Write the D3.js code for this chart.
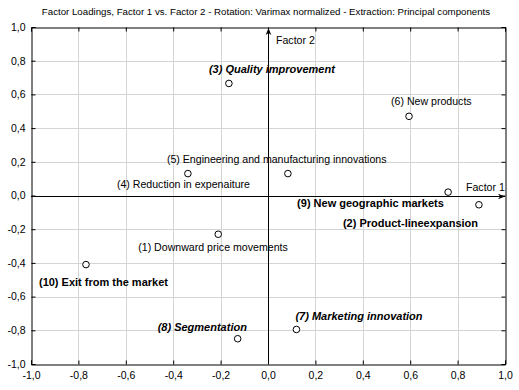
<!DOCTYPE html>
<html>
<head>
<meta charset="utf-8">
<script src="https://cdn.jsdelivr.net/npm/d3@7"></script>
<style>
  body { margin: 0; background: #fff; }
  svg { font-family: "Liberation Sans", Arial, sans-serif; }
</style>
</head>
<body>
<svg id="chart" width="519" height="390"></svg>
<script>
// factor loadings
const labels = [
  "(1) Downward price movements",
  "(2) Product-lineexpansion",
  "(3) Quality improvement",
  "(4) Reduction in expenaiture",
  "(5) Engineering and manufacturing innovations",
  "(6) New products",
  "(7) Marketing innovation",
  "(8) Segmentation",
  "(9) New geographic markets",
  "(10) Exit from the market"
];
const factor1 = [-0.21, 0.89, -0.165, 0.084, -0.338, 0.595, 0.12, -0.128, 0.76, -0.768];
const factor2 = [-0.23, -0.055, 0.665, 0.13, 0.13, 0.47, -0.795, -0.85, 0.02, -0.41];
const ticks = [-1, -0.8, -0.6, -0.4, -0.2, 0, 0.2, 0.4, 0.6, 0.8, 1];

// label styling / placement (pixels relative to the point)
const labelStyle = ["normal", "bold", "bolditalic", "normal", "normal", "normal", "bolditalic", "bolditalic", "bold", "bold"];
const labelDx = [-80, -136, -20, -171, -21, -18, -1, -80, -151, -47];
const labelDy = [17, 22, -10, 14, -11, -11, -9, -8, 15, 21];

const svg = d3.select('#chart');
const m = {left: 31, right: 505, top: 27, bottom: 364};

const x = d3.scaleLinear().domain([-1, 1]).range([m.left, m.right]);
const y = d3.scaleLinear().domain([-1, 1]).range([m.bottom, m.top]);
const fmt = d => d3.format('.1f')(d).replace('.', ',').replace('−', '-');

svg.append('text')
  .attr('x', 266).attr('y', 15)
  .attr('text-anchor', 'middle')
  .attr('font-size', 9.7)
  .text('Factor Loadings, Factor 1 vs. Factor 2 - Rotation: Varimax normalized - Extraction: Principal components');

// grid
const grid = svg.append('g').attr('stroke', '#d4d4d4').attr('shape-rendering', 'crispEdges');
grid.selectAll('.gx').data(ticks.slice(1, -1)).enter().append('line')
  .attr('x1', d => Math.round(x(d)) + 0.5).attr('x2', d => Math.round(x(d)) + 0.5)
  .attr('y1', m.top).attr('y2', m.bottom);
grid.selectAll('.gy').data(ticks.slice(1, -1)).enter().append('line')
  .attr('y1', d => Math.round(y(d)) + 0.5).attr('y2', d => Math.round(y(d)) + 0.5)
  .attr('x1', m.left).attr('x2', m.right);

// axes with inward ticks
const xAxisB = d3.axisBottom(x).tickValues(ticks).tickSize(-4).tickPadding(7).tickFormat(fmt);
const xAxisT = d3.axisTop(x).tickValues(ticks).tickSize(-4).tickFormat('');
const yAxisL = d3.axisLeft(y).tickValues(ticks).tickSize(-4).tickPadding(6).tickFormat(fmt);
const yAxisR = d3.axisRight(y).tickValues(ticks).tickSize(-4).tickFormat('');

[[xAxisB, `translate(0,${m.bottom + 0.5})`], [xAxisT, `translate(0,${m.top + 0.5})`],
 [yAxisL, `translate(${m.left + 0.5},0)`], [yAxisR, `translate(${m.right + 0.5},0)`]].forEach(([ax, tr]) => {
  const g = svg.append('g').attr('transform', tr).call(ax);
  g.selectAll('text').attr('font-size', 10.5).attr('fill', '#000')
    .attr('font-family', '"Liberation Sans", Arial, sans-serif');
  g.selectAll('line').attr('stroke', '#000');
  g.select('.domain').attr('stroke', '#000');
});

// zero axes with arrows
svg.append('defs').append('marker')
  .attr('id', 'arrow').attr('viewBox', '0 0 10 10').attr('refX', 10).attr('refY', 5)
  .attr('markerWidth', 9).attr('markerHeight', 7).attr('orient', 'auto')
  .append('path').attr('d', 'M0,1L10,5L0,9L3,5Z').attr('fill', '#000');

svg.append('line')
  .attr('x1', m.left).attr('x2', x(1))
  .attr('y1', Math.round(y(0)) + 0.5).attr('y2', Math.round(y(0)) + 0.5)
  .attr('stroke', '#000').attr('marker-end', 'url(#arrow)');
svg.append('line')
  .attr('y1', m.bottom).attr('y2', y(1) + 1)
  .attr('x1', Math.round(x(0)) + 0.5).attr('x2', Math.round(x(0)) + 0.5)
  .attr('stroke', '#000').attr('marker-end', 'url(#arrow)');

svg.append('text').attr('x', x(0) + 8).attr('y', y(1) + 17)
  .attr('font-size', 10.6).text('Factor 2');
svg.append('text').attr('x', x(1) - 39).attr('y', y(0) - 5)
  .attr('font-size', 10.6).text('Factor 1');

// points
const data = labels.map((l, i) => ({label: l, f1: factor1[i], f2: factor2[i], style: labelStyle[i], dx: labelDx[i], dy: labelDy[i]}));

svg.selectAll('circle.pt').data(data).enter().append('circle')
  .attr('class', 'pt')
  .attr('cx', d => x(d.f1)).attr('cy', d => y(d.f2))
  .attr('r', 3.3)
  .attr('fill', '#fff').attr('stroke', '#000').attr('stroke-width', 1);

svg.selectAll('text.lbl').data(data).enter().append('text')
  .attr('class', 'lbl')
  .attr('x', d => x(d.f1) + d.dx).attr('y', d => y(d.f2) + d.dy)
  .attr('font-size', d => d.style === 'normal' ? 10.6 : 11)
  .attr('font-weight', d => d.style === 'normal' ? 'normal' : 'bold')
  .attr('font-style', d => d.style === 'bolditalic' ? 'italic' : 'normal')
  .attr('fill', '#000')
  .text(d => d.label);
</script>
</body>
</html>
